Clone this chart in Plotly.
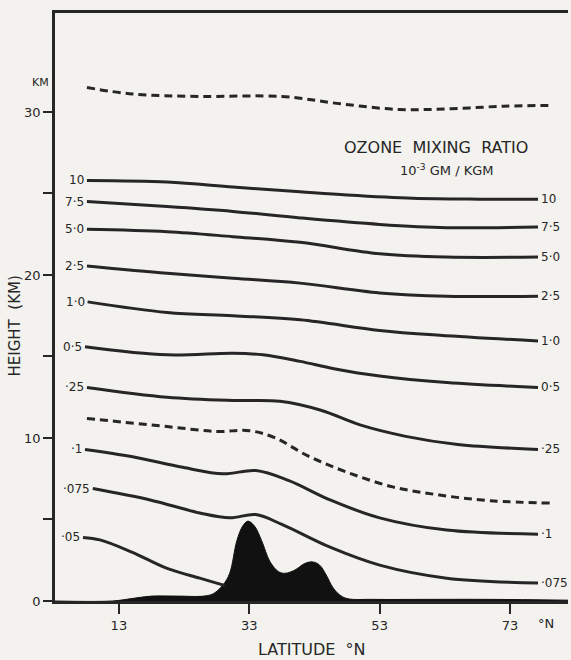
import plotly.graph_objects as go

# ---------------- data ----------------
x_ticks = [13, 33, 53, 73]
y_ticks = [0, 10, 20, 30]
y_minor_ticks = [5, 15, 25]

terrain_lat = [3.2, 12, 15, 18, 22, 26, 27.5, 29, 30, 31.1, 32, 32.8, 33.8, 34.9, 36.2, 37.5,
               38.5, 40, 41.5, 42.7, 43.8, 44.8, 45.8, 46.8, 48, 52, 60, 70, 82]
terrain_h = [0, 0, 0.15, 0.3, 0.3, 0.3, 0.45, 1.0, 1.7, 3.7, 4.6, 4.9, 4.6, 3.7, 2.4, 1.8,
             1.7, 1.9, 2.3, 2.4, 2.2, 1.6, 0.85, 0.4, 0.15, 0.1, 0.1, 0.1, 0.05]

c10_lat = [8.1, 20.4, 30.5, 40.8, 48, 58.1, 68.4, 77.3]
c10_h = [25.8, 25.7, 25.4, 25.1, 24.9, 24.7, 24.65, 24.65]
c7_5_lat = [8.1, 20.4, 30.5, 40.8, 53, 63.3, 77.3]
c7_5_h = [24.5, 24.2, 23.9, 23.5, 23.1, 22.9, 22.95]
c5_0_lat = [8.1, 20.4, 30.5, 40.8, 53, 63.3, 77.3]
c5_0_h = [22.8, 22.65, 22.35, 22.0, 21.3, 21.1, 21.1]
c2_5_lat = [8.1, 20.4, 30.5, 40.8, 53, 63.3, 77.3]
c2_5_h = [20.55, 20.1, 19.8, 19.5, 18.9, 18.7, 18.7]
c1_0_lat = [8.2, 20.4, 30.5, 40.8, 53, 62.2, 77.3]
c1_0_h = [18.35, 17.7, 17.5, 17.25, 16.6, 16.3, 15.95]
c0_5_lat = [7.8, 20.4, 30.5, 35.1, 40.8, 46, 53, 63.3, 77.3]
c0_5_h = [15.6, 15.1, 15.2, 15.1, 14.7, 14.25, 13.8, 13.4, 13.1]
c0_25_lat = [8.1, 20.4, 30.5, 37.7, 44, 50, 57, 65, 77.3]
c0_25_h = [13.1, 12.5, 12.3, 12.25, 11.7, 10.8, 10.1, 9.6, 9.3]
c0_1_lat = [7.8, 15.1, 22.8, 29, 34, 39, 45.4, 53, 63.3, 77.3]
c0_1_h = [9.3, 8.85, 8.2, 7.8, 8.0, 7.4, 6.2, 5.1, 4.35, 4.1]
c0_075_lat = [9.0, 17.8, 25.4, 30, 34, 38, 45.4, 53, 63.3, 77.3]
c0_075_h = [6.9, 6.2, 5.4, 5.1, 5.3, 4.7, 3.3, 2.2, 1.4, 1.1]
c0_05_lat = [7.5, 10.1, 15, 20.4, 25.4, 28.0, 29.2]
c0_05_h = [3.9, 3.75, 3.0, 2.0, 1.4, 1.1, 0.95]

dash_top_lat = [8.1, 15.1, 25.4, 38, 47, 56, 64, 72, 79.6]
dash_top_h = [31.5, 31.1, 30.95, 30.95, 30.5, 30.15, 30.2, 30.35, 30.4]
dash_low_lat = [8.1, 20.4, 28, 33, 37, 42, 48, 55, 62.2, 70, 79.6]
dash_low_h = [11.2, 10.7, 10.4, 10.45, 10.0, 8.9, 7.9, 7.0, 6.5, 6.15, 6.0]

left_labels = ["10", "7·5", "5·0", "2·5", "1·0", "0·5", "·25", "·1", "·075", "·05"]
right_labels = ["10", "7·5", "5·0", "2·5", "1·0", "0·5", "·25", "·1", "·075"]

# ---------------- figure ----------------
INK = "#262626"
PAPER = "#f3f2ee"
FONT = "DejaVu Sans"

fig = go.Figure()

fig.add_trace(go.Scatter(x=terrain_lat, y=terrain_h, mode="lines", fill="tozeroy",
                         fillcolor="#111111", line=dict(color="#111111", width=1, shape="spline"),
                         hoverinfo="skip", showlegend=False))

solid = [(c10_lat, c10_h), (c7_5_lat, c7_5_h), (c5_0_lat, c5_0_h), (c2_5_lat, c2_5_h),
         (c1_0_lat, c1_0_h), (c0_5_lat, c0_5_h), (c0_25_lat, c0_25_h), (c0_1_lat, c0_1_h),
         (c0_075_lat, c0_075_h), (c0_05_lat, c0_05_h)]
for lx, ly in solid:
    fig.add_trace(go.Scatter(x=lx, y=ly, mode="lines",
                             line=dict(color=INK, width=3, shape="spline", smoothing=1.0),
                             showlegend=False, hoverinfo="skip"))

for lx, ly in [(dash_top_lat, dash_top_h), (dash_low_lat, dash_low_h)]:
    fig.add_trace(go.Scatter(x=lx, y=ly, mode="lines",
                             line=dict(color=INK, width=3, dash="8px,5px", shape="spline", smoothing=1.0),
                             showlegend=False, hoverinfo="skip"))

ann = []
for (lx, ly), txt in zip(solid, left_labels):
    ann.append(dict(x=lx[0], y=ly[0], text=txt, showarrow=False, xanchor="right",
                    yanchor="middle", xshift=-1, font=dict(size=12, color=INK, family=FONT)))
for (lx, ly), txt in zip(solid[:9], right_labels):
    ann.append(dict(x=lx[-1], y=ly[-1], text=txt, showarrow=False, xanchor="left",
                    yanchor="middle", xshift=1, font=dict(size=12, color=INK, family=FONT)))

ann.append(dict(x=61.6, y=27.85, text="OZONE&nbsp;&nbsp;MIXING&nbsp;&nbsp;RATIO", showarrow=False,
                font=dict(size=16, color=INK, family=FONT)))
ann.append(dict(x=63.3, y=26.45, text="10<sup>-3</sup> GM / KGM", showarrow=False,
                font=dict(size=13, color=INK, family=FONT)))
ann.append(dict(xref="paper", x=0, y=31.8, text="KM", showarrow=False, xanchor="right",
                xshift=-4, font=dict(size=11, color=INK, family=FONT)))
ann.append(dict(xref="paper", x=-0.078, xanchor="center", y=16.9, yanchor="middle",
                text="HEIGHT&nbsp;&nbsp;(KM)", showarrow=False,
                textangle=-90, font=dict(size=15, color=INK, family=FONT)))
ann.append(dict(x=78.6, yref="paper", y=0, yanchor="top", yshift=-13, text="°N",
                showarrow=False, font=dict(size=13, color=INK, family=FONT)))
ann.append(dict(xref="paper", x=0.5, yref="paper", y=0, yanchor="top", yshift=-37,
                text="LATITUDE&nbsp;&nbsp;°N", showarrow=False,
                font=dict(size=16, color=INK, family=FONT)))

fig.update_layout(
    width=571, height=660,
    margin=dict(l=55, r=3, t=13, b=59),
    paper_bgcolor=PAPER, plot_bgcolor=PAPER,
    annotations=ann,
    showlegend=False,
    xaxis=dict(range=[3.2, 81.9], tickvals=x_ticks, ticks="outside", ticklen=10,
               tickwidth=2, tickcolor=INK, showgrid=False, zeroline=False,
               showline=True, linecolor=INK, linewidth=3, mirror=True,
               tickfont=dict(size=13, color=INK, family=FONT)),
    yaxis=dict(range=[0, 36.07], tickvals=y_ticks, ticks="outside",
               ticklen=9, tickwidth=2, tickcolor=INK, showgrid=False, zeroline=False,
               showline=True, linecolor=INK, linewidth=2.5,
               minor=dict(tickmode="array", tickvals=y_minor_ticks, ticks="outside",
                          ticklen=9, tickwidth=2, tickcolor=INK, showgrid=False),
               tickfont=dict(size=13, color=INK, family=FONT)),
)

fig.write_html("out.html")
